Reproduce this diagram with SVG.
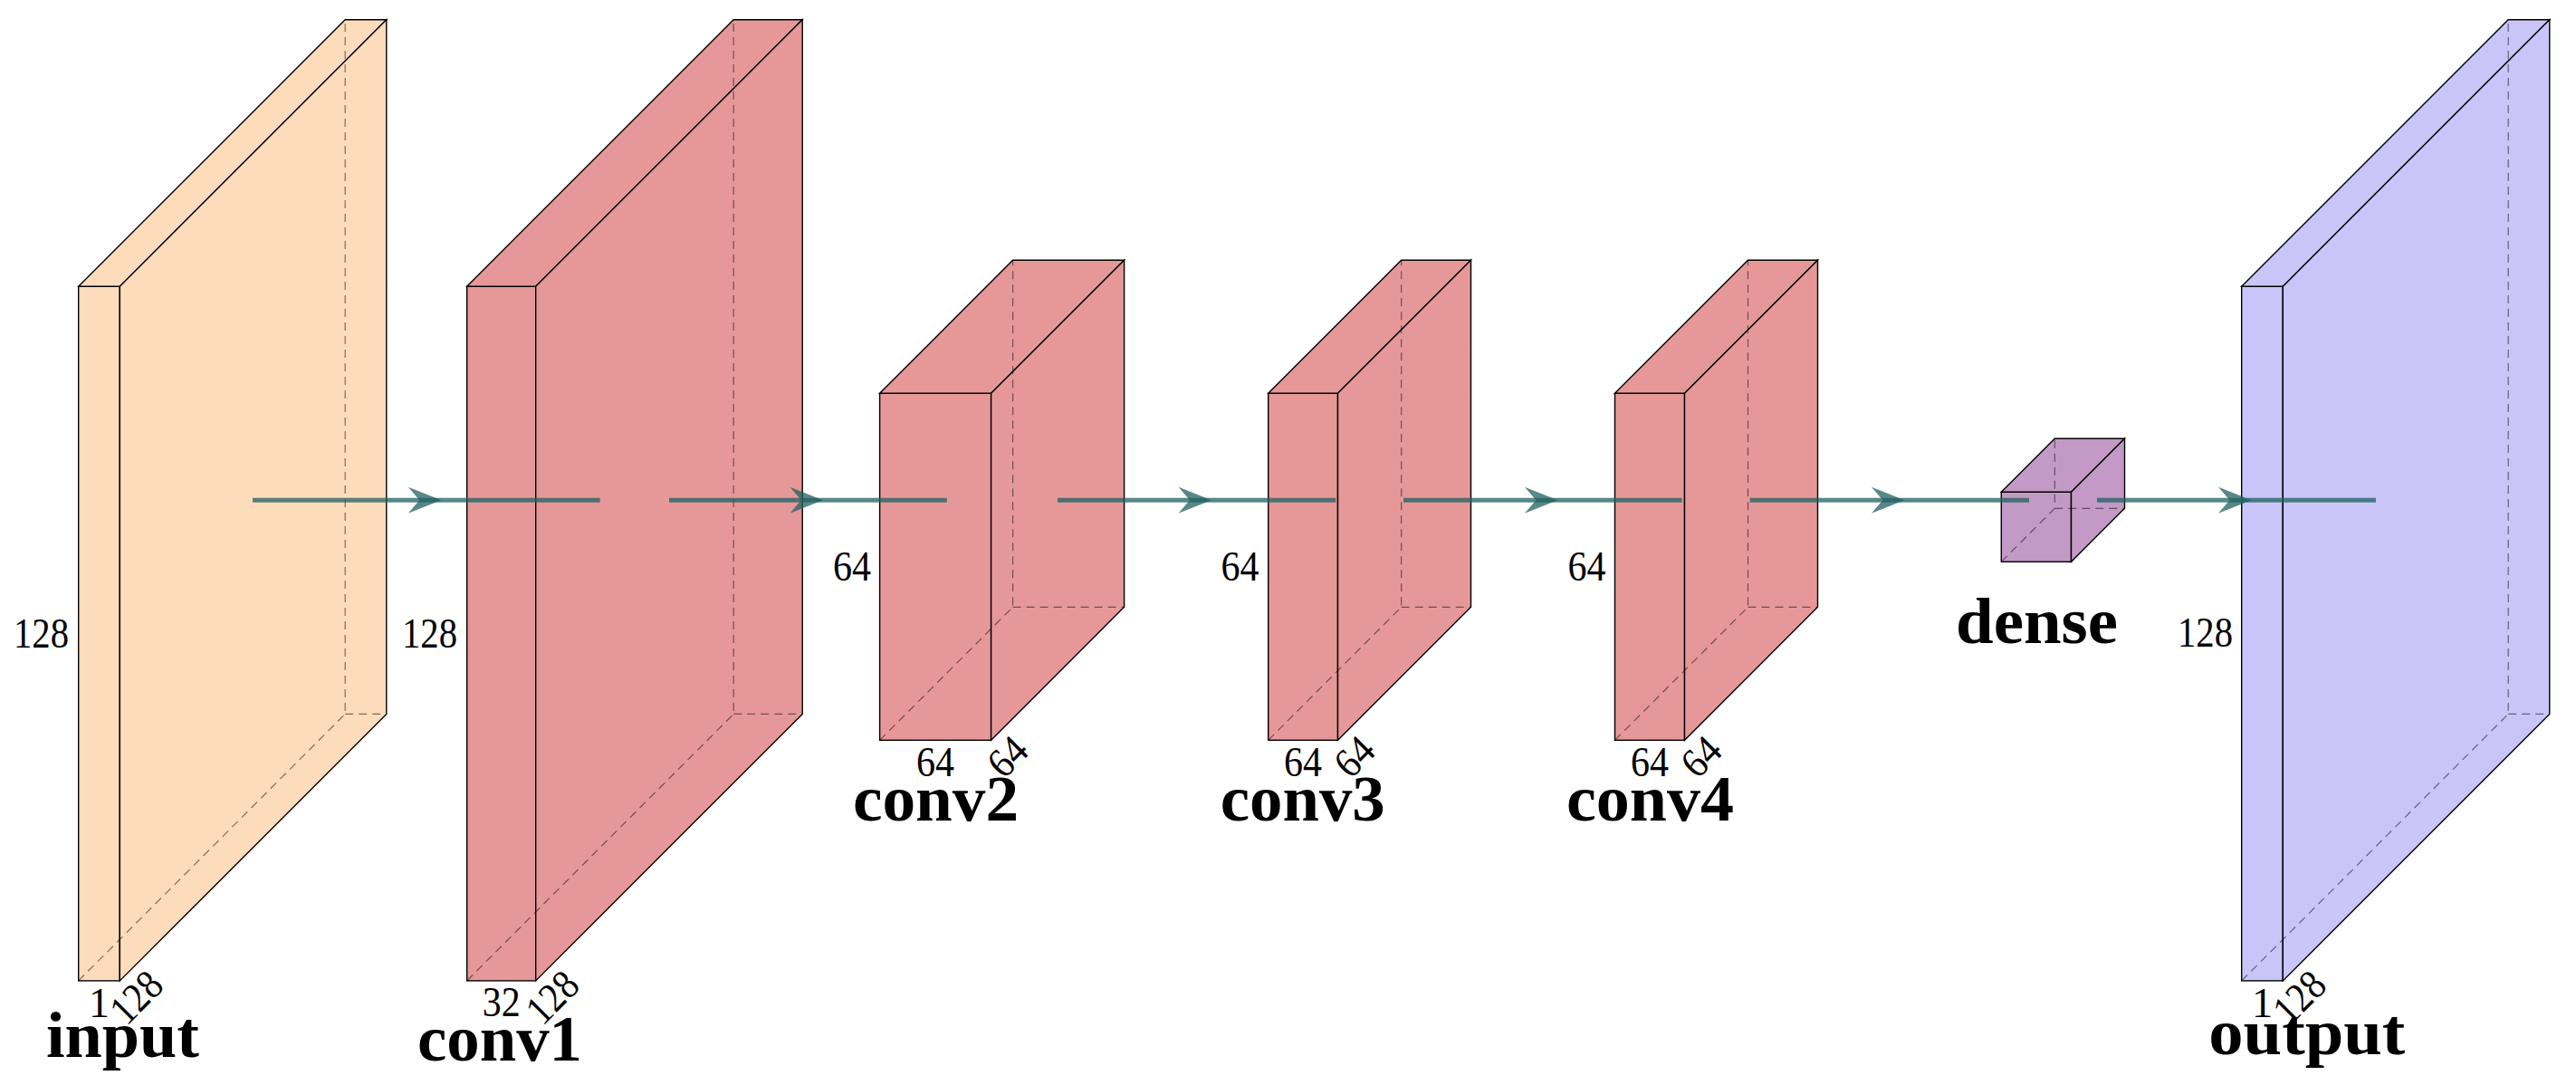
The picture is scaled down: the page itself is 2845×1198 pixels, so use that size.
<svg xmlns="http://www.w3.org/2000/svg" width="2845" height="1198" viewBox="0 0 2845 1198">
<style>
.face{stroke:#000;stroke-width:1.4;stroke-linejoin:miter}
.hid{fill:none;stroke:#000;stroke-opacity:0.5;stroke-width:1.2;stroke-dasharray:9 6}
.in{fill:#FDDCBC}
.cv{fill:#E69898}
.dn{fill:#C39AC5}
.out{fill:#C9C5F8}
.num{font-family:"Liberation Serif","DejaVu Serif",serif;font-size:46px;fill:#000}
.cap{font-family:"Liberation Serif","DejaVu Serif",serif;font-size:72px;font-weight:bold;fill:#000}
.conn{fill:none;stroke:#206060;stroke-opacity:0.75;stroke-width:5;marker-mid:url(#midarrow)}
</style>
<defs>
<marker id="midarrow" markerUnits="userSpaceOnUse" viewBox="-40 -18 44 36" refX="0" refY="0" markerWidth="44" markerHeight="36" orient="auto" overflow="visible">
<path d="M0,0 L-36.5,-14.5 L-24,0 L-36.5,14.5 Z" fill="#206060" fill-opacity="0.75"/>
</marker>
</defs>
<rect width="2845" height="1198" fill="#fff"/>

<g id="input">
<rect class="face in" x="86.7" y="316.2" width="45.6" height="766.7"/>
<polygon class="face in" points="86.7,316.2 381.2,21.7 426.8,21.7 132.3,316.2"/>
<polygon class="face in" points="132.3,316.2 426.8,21.7 426.8,788.4 132.3,1082.9"/>
<path class="hid" d="M86.7,1082.9 L381.2,788.4 L381.2,21.7 M381.2,788.4 L426.8,788.4"/>
<text class="num" x="15" y="715" textLength="61" lengthAdjust="spacingAndGlyphs">128</text>
<text class="num" x="109.5" y="1122.7" text-anchor="middle">1</text>
<text class="num" transform="translate(161.3,1111.9) rotate(-45)" x="-30.5" y="0" textLength="61" lengthAdjust="spacingAndGlyphs">128</text>
<text class="cap" x="51" y="1167" textLength="169" lengthAdjust="spacingAndGlyphs">input</text>
</g>

<g id="conv1">
<rect class="face cv" x="515.7" y="316.2" width="76" height="766.7"/>
<polygon class="face cv" points="515.7,316.2 810.2,21.7 886.2,21.7 591.7,316.2"/>
<polygon class="face cv" points="591.7,316.2 886.2,21.7 886.2,788.4 591.7,1082.9"/>
<path class="hid" d="M515.7,1082.9 L810.2,788.4 L810.2,21.7 M810.2,788.4 L886.2,788.4"/>
<text class="num" x="444" y="715" textLength="61" lengthAdjust="spacingAndGlyphs">128</text>
<text class="num" x="532.7" y="1121.7" textLength="42" lengthAdjust="spacingAndGlyphs">32</text>
<text class="num" transform="translate(620.7,1111.9) rotate(-45)" x="-30.5" y="0" textLength="61" lengthAdjust="spacingAndGlyphs">128</text>
<text class="cap" x="461" y="1171" textLength="182" lengthAdjust="spacingAndGlyphs">conv1</text>
</g>

<g id="conv2">
<rect class="face cv" x="971.6" y="434.3" width="123" height="383"/>
<polygon class="face cv" points="971.6,434.3 1118.6,287.3 1241.6,287.3 1094.6,434.3"/>
<polygon class="face cv" points="1094.6,434.3 1241.6,287.3 1241.6,670.3 1094.6,817.3"/>
<path class="hid" d="M971.6,817.3 L1118.6,670.3 L1118.6,287.3 M1118.6,670.3 L1241.6,670.3"/>
<text class="num" x="920" y="640.7" textLength="42" lengthAdjust="spacingAndGlyphs">64</text>
<text class="num" x="1012" y="856.7" textLength="42" lengthAdjust="spacingAndGlyphs">64</text>
<text class="num" transform="translate(1123.6,846.3) rotate(-45)" x="-21" y="0" textLength="42" lengthAdjust="spacingAndGlyphs">64</text>
<text class="cap" x="942" y="906" textLength="183" lengthAdjust="spacingAndGlyphs">conv2</text>
</g>

<g id="conv3">
<rect class="face cv" x="1400.7" y="434.3" width="76.8" height="383"/>
<polygon class="face cv" points="1400.7,434.3 1547.7,287.3 1624.5,287.3 1477.5,434.3"/>
<polygon class="face cv" points="1477.5,434.3 1624.5,287.3 1624.5,670.3 1477.5,817.3"/>
<path class="hid" d="M1400.7,817.3 L1547.7,670.3 L1547.7,287.3 M1547.7,670.3 L1624.5,670.3"/>
<text class="num" x="1348.5" y="640.7" textLength="42" lengthAdjust="spacingAndGlyphs">64</text>
<text class="num" x="1418" y="856.7" textLength="42" lengthAdjust="spacingAndGlyphs">64</text>
<text class="num" transform="translate(1506.5,846.3) rotate(-45)" x="-21" y="0" textLength="42" lengthAdjust="spacingAndGlyphs">64</text>
<text class="cap" x="1347.7" y="906" textLength="182" lengthAdjust="spacingAndGlyphs">conv3</text>
</g>

<g id="conv4">
<rect class="face cv" x="1783.5" y="434.3" width="77" height="383"/>
<polygon class="face cv" points="1783.5,434.3 1930.5,287.3 2007.5,287.3 1860.5,434.3"/>
<polygon class="face cv" points="1860.5,434.3 2007.5,287.3 2007.5,670.3 1860.5,817.3"/>
<path class="hid" d="M1783.5,817.3 L1930.5,670.3 L1930.5,287.3 M1930.5,670.3 L2007.5,670.3"/>
<text class="num" x="1731.5" y="640.7" textLength="42" lengthAdjust="spacingAndGlyphs">64</text>
<text class="num" x="1801" y="856.7" textLength="42" lengthAdjust="spacingAndGlyphs">64</text>
<text class="num" transform="translate(1889.5,846.3) rotate(-45)" x="-21" y="0" textLength="42" lengthAdjust="spacingAndGlyphs">64</text>
<text class="cap" x="1730" y="906" textLength="185" lengthAdjust="spacingAndGlyphs">conv4</text>
</g>

<g id="dense">
<rect class="face dn" x="2210.3" y="543.3" width="77.2" height="77"/>
<polygon class="face dn" points="2210.3,543.3 2269.3,484.3 2346.5,484.3 2287.5,543.3"/>
<polygon class="face dn" points="2287.5,543.3 2346.5,484.3 2346.5,561.3 2287.5,620.3"/>
<path class="hid" d="M2210.3,620.3 L2269.3,561.3 L2269.3,484.3 M2269.3,561.3 L2346.5,561.3"/>
<text class="cap" x="2160" y="710" textLength="179" lengthAdjust="spacingAndGlyphs">dense</text>
</g>

<g id="output">
<rect class="face out" x="2475.7" y="316.2" width="45.6" height="766.7"/>
<polygon class="face out" points="2475.7,316.2 2770.2,21.7 2815.8,21.7 2521.3,316.2"/>
<polygon class="face out" points="2521.3,316.2 2815.8,21.7 2815.8,788.4 2521.3,1082.9"/>
<path class="hid" d="M2475.7,1082.9 L2770.2,788.4 L2770.2,21.7 M2770.2,788.4 L2815.8,788.4"/>
<text class="num" x="2405" y="714.3" textLength="61" lengthAdjust="spacingAndGlyphs">128</text>
<text class="num" x="2498.5" y="1122.7" text-anchor="middle">1</text>
<text class="num" transform="translate(2550.3,1111.9) rotate(-45)" x="-30.5" y="0" textLength="61" lengthAdjust="spacingAndGlyphs">128</text>
<text class="cap" x="2439.3" y="1164.3" textLength="217" lengthAdjust="spacingAndGlyphs">output</text>
</g>

<g id="connectors">
<path class="conn" d="M279,552.3 L487.3,552.3 L662.7,552.3"/>
<path class="conn" d="M739,552.3 L908.9,552.3 L1045.8,552.3"/>
<path class="conn" d="M1167.9,552.3 L1338,552.3 L1475.2,552.3"/>
<path class="conn" d="M1550,552.3 L1720.4,552.3 L1857.7,552.3"/>
<path class="conn" d="M1932.7,552.3 L2103.4,552.3 L2241,552.3"/>
<path class="conn" d="M2316,552.3 L2486.5,552.3 L2624,552.3"/>
</g>
</svg>
